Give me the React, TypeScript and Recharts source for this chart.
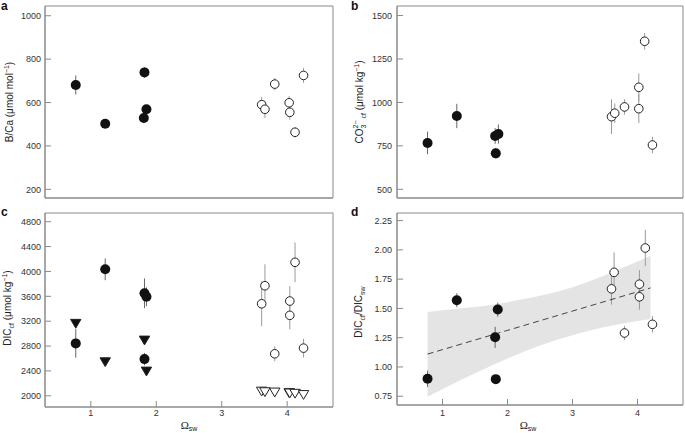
import React from "react"
import { ComposedChart, Scatter, XAxis, YAxis, ErrorBar, Area, ReferenceArea } from "recharts"

const OMEGA_TICKS = [1, 2, 3, 4]
const OMEGA_DOMAIN = [0.3, 4.7]

// a: B/Ca
const A_TICKS = [200, 400, 600, 800, 1000]
const A_FILLED_X = [0.77, 1.22, 1.82, 1.85, 1.81]
const A_FILLED_Y = [681, 502, 739, 569, 529]
const A_FILLED_E = [44, 12, 24, 20, 24]
const A_OPEN_X = [3.61, 3.66, 3.81, 4.03, 4.04, 4.12, 4.25]
const A_OPEN_Y = [590, 569, 685, 599, 555, 463, 725]
const A_OPEN_E = [36, 40, 28, 30, 34, 24, 34]

// b: CO3 2- cf
const B_TICKS = [500, 750, 1000, 1250, 1500]
const B_FILLED_X = [0.77, 1.22, 1.81, 1.86, 1.82]
const B_FILLED_Y = [767, 922, 807, 818, 707]
const B_FILLED_E = [65, 70, 45, 55, 30]
const B_OPEN_X = [3.6, 3.65, 3.8, 4.02, 4.02, 4.11, 4.23]
const B_OPEN_Y = [918, 938, 974, 1087, 964, 1352, 755]
const B_OPEN_E = [100, 56, 44, 80, 82, 48, 48]

// c: DIC cf
const C_TICKS = [2000, 2400, 2800, 3200, 3600, 4000, 4400, 4800]
const C_FILLED_X = [0.77, 1.22, 1.82, 1.85, 1.82]
const C_FILLED_Y = [2843, 4034, 3648, 3593, 2590]
const C_FILLED_E = [230, 175, 240, 150, 100]
const C_FTRI_X = [0.77, 1.22, 1.82, 1.85]
const C_FTRI_Y = [3165, 2547, 2896, 2397]
const C_OPEN_X = [3.61, 3.66, 3.81, 4.04, 4.04, 4.12, 4.25]
const C_OPEN_Y = [3480, 3770, 2676, 3524, 3294, 4147, 2767]
const C_OPEN_E = [360, 345, 120, 240, 225, 320, 150]
const C_OTRI_X = [3.61, 3.66, 3.81, 4.03, 4.04, 4.12, 4.25]
const C_OTRI_Y = [2075, 2065, 2060, 2050, 2045, 2040, 2020]

// d: DIC cf / DIC sw
const D_TICKS = [0.75, 1.0, 1.25, 1.5, 1.75, 2.0, 2.25]
const D_FILLED_X = [0.77, 1.22, 1.85, 1.81, 1.82]
const D_FILLED_Y = [0.899, 1.57, 1.49, 1.253, 0.896]
const D_FILLED_E = [0.07, 0.06, 0.06, 0.09, 0.02]
const D_OPEN_X = [3.6, 3.64, 3.8, 4.03, 4.03, 4.12, 4.23]
const D_OPEN_Y = [1.667, 1.808, 1.29, 1.707, 1.599, 2.016, 1.364]
const D_OPEN_E = [0.135, 0.17, 0.06, 0.12, 0.11, 0.155, 0.07]
const BAND_X = [0.77, 1.25, 1.75, 2.25, 2.75, 3.25, 3.75, 4.2]
const BAND_LO = [0.745, 0.88, 1.01, 1.13, 1.23, 1.31, 1.37, 1.41]
const BAND_HI = [1.47, 1.5, 1.53, 1.58, 1.64, 1.73, 1.84, 1.95]
const FIT_X = [0.77, 4.2]
const FIT_Y = [1.11, 1.675]

const zip = (xs: number[], ys: number[], es?: number[]) =>
  xs.map((x, i) => ({ x, y: ys[i], e: es ? es[i] : 0 }))

const bandData = BAND_X.map((x, i) => ({ x, band: [BAND_LO[i], BAND_HI[i]] }))

const AXIS = "#8a8a8a"
const FONT = "Liberation Sans, Arial, sans-serif"

const Dot = (p: any) => <circle cx={p.cx} cy={p.cy} r={5} fill="#111" />
const Ring = (p: any) => <circle cx={p.cx} cy={p.cy} r={4.3} fill="#fff" stroke="#222" strokeWidth={1} />
const tri = (fill: string) => (p: any) => (
  <path
    d={`M${p.cx - 5.2},${p.cy - 4} L${p.cx + 5.2},${p.cy - 4} L${p.cx},${p.cy + 4.8} Z`}
    fill={fill}
    stroke="#222"
    strokeWidth={1}
    strokeLinejoin="round"
  />
)
const NoMark = () => <g />

type PanelProps = {
  left: number
  top: number
  height: number
  yWidth: number
  right: number
  xHeight: number
  yDomain: number[]
  yTicks: number[]
  fmt?: (v: number) => string
  showX: boolean
  xMargin?: number
  yMargin: number
  data?: any[]
  children: React.ReactNode
}

function Panel(p: PanelProps) {
  return (
    <div style={{ position: "absolute", left: p.left, top: p.top }}>
      <ComposedChart
        width={345}
        height={p.height}
        data={p.data}
        margin={{ top: 6, right: p.right, left: 0, bottom: 0 }}
      >
        <XAxis
          type="number"
          dataKey="x"
          domain={OMEGA_DOMAIN}
          ticks={OMEGA_TICKS}
          allowDataOverflow
          height={p.xHeight}
          tickSize={-6}
          tickMargin={p.xMargin ?? 9}
          tick={p.showX ? { fontSize: 9, fill: "#333", fontFamily: FONT } : false}
          axisLine={{ stroke: AXIS }}
          tickLine={{ stroke: AXIS }}
        />
        <YAxis
          type="number"
          dataKey="y"
          domain={p.yDomain}
          ticks={p.yTicks}
          allowDataOverflow
          width={p.yWidth}
          tickSize={-6}
          tickMargin={p.yMargin}
          tickFormatter={p.fmt}
          tick={{ fontSize: 9, fill: "#333", fontFamily: FONT }}
          axisLine={{ stroke: AXIS }}
          tickLine={{ stroke: AXIS }}
        />
        {p.children}
        <ReferenceArea
          x1={OMEGA_DOMAIN[0]}
          x2={OMEGA_DOMAIN[1]}
          y1={p.yDomain[0]}
          y2={p.yDomain[1]}
          fill="none"
          fillOpacity={0}
          stroke={AXIS}
          strokeWidth={1}
        />
      </ComposedChart>
    </div>
  )
}

function pts(filled: any[], open: any[]) {
  return [
    <Scatter key="f" data={filled} dataKey="y" shape={Dot} isAnimationActive={false}>
      <ErrorBar dataKey="e" direction="y" width={0} stroke="#666" strokeWidth={1} />
    </Scatter>,
    <Scatter key="o" data={open} dataKey="y" shape={Ring} isAnimationActive={false}>
      <ErrorBar dataKey="e" direction="y" width={0} stroke="#9a9a9a" strokeWidth={1} />
    </Scatter>,
  ]
}

const T = { fontFamily: FONT, fill: "#222" }

export default function App() {
  return (
    <div style={{ position: "absolute", left: 0, top: 0, width: 685, height: 433, background: "#fff" }}>
      <Panel left={0} top={0} height={210} yWidth={45} right={12} xHeight={12} yDomain={[160, 1045]} yTicks={A_TICKS} showX={false} yMargin={10}>
        {pts(zip(A_FILLED_X, A_FILLED_Y, A_FILLED_E), zip(A_OPEN_X, A_OPEN_Y, A_OPEN_E))}
      </Panel>
      <Panel left={340} top={0} height={210} yWidth={57} right={2} xHeight={12} yDomain={[450, 1555]} yTicks={B_TICKS} showX={false} yMargin={11}>
        {pts(zip(B_FILLED_X, B_FILLED_Y, B_FILLED_E), zip(B_OPEN_X, B_OPEN_Y, B_OPEN_E))}
      </Panel>
      <Panel left={0} top={207} height={226} yWidth={45} right={12} xHeight={26} yDomain={[1820, 4940]} yTicks={C_TICKS} showX yMargin={10} xMargin={9}>
        {pts(zip(C_FILLED_X, C_FILLED_Y, C_FILLED_E), zip(C_OPEN_X, C_OPEN_Y, C_OPEN_E))}
        <Scatter data={zip(C_FTRI_X, C_FTRI_Y)} dataKey="y" shape={tri("#111")} isAnimationActive={false} />
        <Scatter data={zip(C_OTRI_X, C_OTRI_Y)} dataKey="y" shape={tri("#fff")} isAnimationActive={false} />
      </Panel>
      <Panel
        left={340}
        top={207}
        height={226}
        yWidth={57}
        right={2}
        xHeight={28}
        yDomain={[0.675, 2.315]}
        yTicks={D_TICKS}
        fmt={(v) => v.toFixed(2)}
        showX
        yMargin={11}
        xMargin={11}
        data={bandData}
      >
        <Area dataKey="band" type="monotone" fill="#e4e4e4" fillOpacity={1} stroke="none" isAnimationActive={false} />
        <Scatter
          data={zip(FIT_X, FIT_Y)}
          dataKey="y"
          shape={NoMark}
          line={{ stroke: "#444", strokeWidth: 1, strokeDasharray: "6 4" }}
          isAnimationActive={false}
        />
        {pts(zip(D_FILLED_X, D_FILLED_Y, D_FILLED_E), zip(D_OPEN_X, D_OPEN_Y, D_OPEN_E))}
      </Panel>

      <svg width={685} height={433} style={{ position: "absolute", left: 0, top: 0, pointerEvents: "none" }}>
        <g fontFamily={FONT} fontWeight="bold" fontSize={12} fill="#111">
          <text x={1} y={10}>a</text>
          <text x={351} y={10}>b</text>
          <text x={1} y={216}>c</text>
          <text x={351} y={216}>d</text>
        </g>

        <text transform="translate(13,102) rotate(-90)" textAnchor="middle" fontSize={10} {...T}>
          B/Ca (μmol mol<tspan fontSize={7} dy={-4}>−1</tspan>
          <tspan dy={4}>)</tspan>
        </text>

        <text transform="translate(363,102) rotate(-90)" textAnchor="middle" fontSize={10} {...T}>
          CO<tspan fontSize={7} dy={3}>3</tspan>
          <tspan fontSize={7} dx={-3.9} dy={-8}>2−</tspan>
          <tspan fontSize={7} dy={8}> cf</tspan>
          <tspan dy={-3}> (μmol kg</tspan>
          <tspan fontSize={7} dy={-4}>−1</tspan>
          <tspan dy={4}>)</tspan>
        </text>

        <text transform="translate(11,308) rotate(-90)" textAnchor="middle" fontSize={10} {...T}>
          DIC<tspan fontSize={7} dy={2.5}>cf</tspan>
          <tspan dy={-2.5}> (μmol kg</tspan>
          <tspan fontSize={7} dy={-4}>−1</tspan>
          <tspan dy={4}>)</tspan>
        </text>

        <text transform="translate(362,312) rotate(-90)" textAnchor="middle" fontSize={10} {...T}>
          DIC<tspan fontSize={7} dy={2.5}>cf</tspan>
          <tspan dy={-2.5}>/DIC</tspan>
          <tspan fontSize={7} dy={2.5}>sw</tspan>
        </text>

        <text x={189} y={429} textAnchor="middle" {...T}>
          <tspan fontFamily="Liberation Serif, serif" fontSize={11}>Ω</tspan>
          <tspan fontSize={7} dy={2}>sw</tspan>
        </text>
        <text x={528} y={429} textAnchor="middle" {...T}>
          <tspan fontFamily="Liberation Serif, serif" fontSize={11}>Ω</tspan>
          <tspan fontSize={7} dy={2}>sw</tspan>
        </text>
      </svg>
    </div>
  )
}
